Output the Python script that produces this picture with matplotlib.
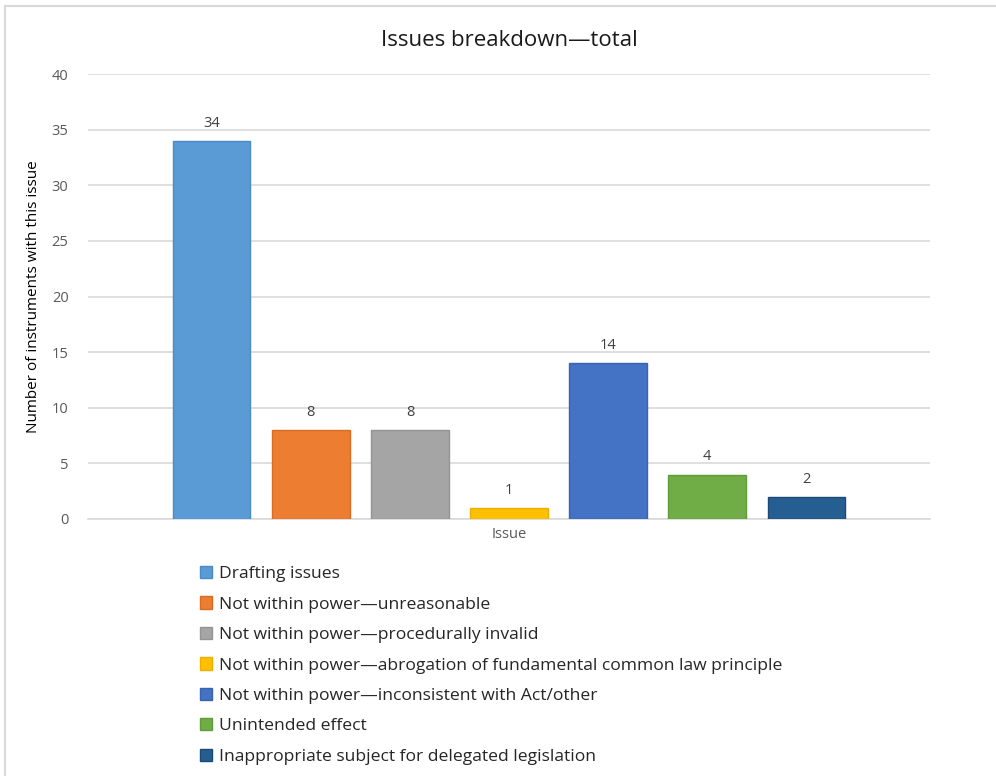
import matplotlib
matplotlib.use("Agg")
import matplotlib.pyplot as plt
from matplotlib.patches import Rectangle
import numpy as np

plt.rcParams['font.family'] = ['Open Sans', 'DejaVu Sans']

# data
series = ['Drafting issues',
          'Not within power\u2014unreasonable',
          'Not within power\u2014procedurally invalid',
          'Not within power\u2014abrogation of fundamental common law principle',
          'Not within power\u2014inconsistent with Act/other',
          'Unintended effect',
          'Inappropriate subject for delegated legislation']
values = [34, 8, 8, 1, 14, 4, 2]
colors = ['#5b9bd5', '#ed7d31', '#a5a5a5', '#ffc000', '#4472c4', '#70ad47', '#255e91']
edges = ['#4a8ac6', '#d86c22', '#949494', '#eeb000', '#3a62b0', '#5f9c3a', '#1c4a75']
category = 'Issue'
yticks = [0, 5, 10, 15, 20, 25, 30, 35, 40]

W, H = 996, 776
fig = plt.figure(figsize=(W / 100, H / 100), dpi=100)

# outer chart border (light grey, left and top visible)
fig.patches.append(Rectangle((5 / W, -0.1), 1.2, 1 - 6 / H + 0.1, transform=fig.transFigure,
                             fill=False, edgecolor='#d9d9d9', linewidth=1.5))

ax = fig.add_axes([88 / W, 1 - 519 / H, (930 - 88) / W, (519 - 74) / H])

x = np.arange(len(values))
bars = []
for i in range(len(values)):
    b = ax.bar(x[i], values[i], width=0.78, color=colors[i], edgecolor=edges[i],
               linewidth=1, label=series[i], zorder=3)
    bars.append(b)
    ax.text(x[i], values[i] + 0.9, str(values[i]), ha='center', va='bottom',
            fontsize=10.5, color='#404040')

ax.set_xlim(-1.25, 7.25)
ax.set_ylim(0, 40)
ax.set_yticks(yticks)
ax.set_xticks([3])
ax.set_xticklabels([category])
ax.tick_params(axis='both', length=0, labelsize=10.5, labelcolor='#595959')
ax.tick_params(axis='y', pad=14)
ax.tick_params(axis='x', pad=6)
ax.yaxis.grid(True, color='#d9d9d9', linewidth=1.2, zorder=0)
for s in ['top', 'right', 'left']:
    ax.spines[s].set_visible(False)
ax.spines['bottom'].set_color('#d9d9d9')
ax.spines['bottom'].set_linewidth(1.2)

ax.set_ylabel('Number of instruments with this issue', fontsize=11, color='#000000', labelpad=8)
ax.set_title('Issues breakdown\u2014total', fontsize=16, color='#1a1a1a', pad=20)

fig.legend(handles=[b[0] for b in bars], labels=series, loc='upper left',
           bbox_to_anchor=(193 / W, 1 - 559 / H), frameon=False, fontsize=12.6,
           handlelength=0.7, handleheight=0.7, handletextpad=0.4,
           labelspacing=0.81, labelcolor='#262626', borderaxespad=0)

fig.savefig('out.png', dpi=100, facecolor='white')
